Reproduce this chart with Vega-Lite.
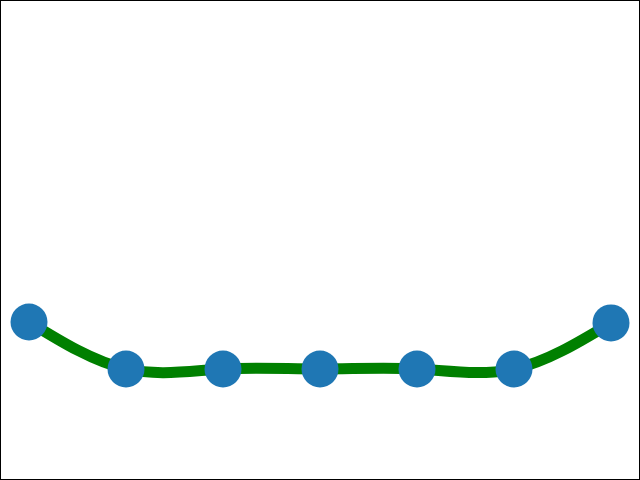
{
  "$schema": "https://vega.github.io/schema/vega-lite/v6.json",
  "width": 640,
  "height": 480,
  "autosize": {"type": "fit", "contains": "padding"},
  "padding": 0,
  "background": "white",
  "config": {"view": {"stroke": "black", "strokeWidth": 2}},
  "data": {"values": [
    {"x": 0, "y": 1},
    {"x": 1, "y": 0},
    {"x": 2, "y": 0},
    {"x": 3, "y": 0},
    {"x": 4, "y": 0},
    {"x": 5, "y": 0},
    {"x": 6, "y": 0.98}
  ]},
  "encoding": {
    "x": {"field": "x", "type": "quantitative", "scale": {"domain": [-0.299, 6.299], "nice": false, "zero": false}, "axis": null},
    "y": {"field": "y", "type": "quantitative", "scale": {"domain": [-2.362, 7.851], "nice": false, "zero": false}, "axis": null}
  },
  "layer": [
    {"mark": {"type": "line", "interpolate": "natural", "color": "green", "strokeWidth": 11, "clip": true}},
    {"mark": {"type": "point", "filled": true, "opacity": 1, "color": "#1f77b4", "size": 1369, "shape": "circle"}}
  ]
}
